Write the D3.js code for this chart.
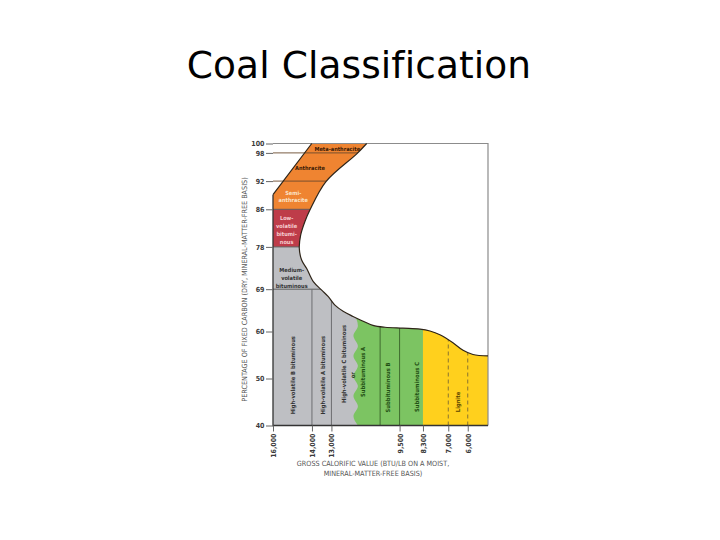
<!DOCTYPE html>
<html><head><meta charset="utf-8">
<script src="https://cdn.jsdelivr.net/npm/d3@7"></script>
<style>body{margin:0;background:#fff}</style>
</head><body>
<svg id="c" width="720" height="540"></svg>
<script>
// ---------------- data ----------------
const yTicks = [100, 98, 92, 86, 78, 69, 60, 50, 40];
const xTicks = [16000, 14000, 13000, 9500, 8300, 7000, 6000];
const rankFC = [98, 92, 86, 78, 69];              // fixed-carbon class limits
const columnBTU = [14000, 13000, 10500, 9500];     // calorific class limits
const ligniteDashBTU = [7000, 6000];
const subLigniteBTU = 8300;
// outer boundary of the coal field
const curveBTU = [11190, 11700, 13280, 14100, 14360, 14580, 14650, 14530, 14270, 13930, 13500, 13160, 12820, 12400, 11890, 11430, 10870, 10250, 9330, 8450, 7940, 7430, 6760, 6240, 5730, 4960];
const curveFC  = [100, 97.8, 91.9, 85.9, 83.4, 80.5, 77.7, 75.2, 73.4, 70.6, 68.8, 67.4, 65.6, 64.3, 63.2, 62.3, 61.3, 60.9, 60.7, 60.5, 60.1, 59.3, 57.6, 56.0, 55.1, 54.8];
// left edge of the anthracite band
const edgeBTU = [16000, 14010];
const edgeFC = [89.1, 100];
// wavy bituminous / subbituminous limit
const waveBTU = [11870, 11640, 11870, 11640, 11870, 11640, 11870, 11640, 11870, 11640, 11870, 11640];
const waveFC  = [64, 61.2, 59.1, 56.9, 54.8, 52.7, 50.5, 48.4, 46.3, 44.1, 42.0, 40];
const btuMin = 4960, btuMax = 16000, fcMin = 40, fcMax = 100;

const bandLabels = [
  {lines: ["Meta-anthracite"], btu: 12700, fc: 98.8, color: "#3b1a05"},
  {lines: ["Anthracite"], btu: 14100, fc: 94.7, color: "#3b1a05"},
  {lines: ["Semi-", "anthracite"], btu: 14960, fc: 88.7, color: "#fbe3c8"},
  {lines: ["Low-", "volatile", "bitumi-", "nous"], btu: 15300, fc: 81.6, color: "#f6cdd0"},
  {lines: ["Medium-", "volatile", "bituminous"], btu: 15040, fc: 71.4, color: "#333333"}
];
const columnLabels = [
  {text: "High-volatile B bituminous", btu: 14970, fc: 50.7, color: "#333333"},
  {text: "High-volatile A bituminous", btu: 13430, fc: 50.7, color: "#333333"},
  {text: "High-volatile C bituminous", btu: 12350, fc: 53.1, color: "#333333"},
  {text: "or", btu: 11880, fc: 50.7, color: "#2a3a20"},
  {text: "Subbituminous A", btu: 11360, fc: 51.4, color: "#1f4d12"},
  {text: "Subbituminous B", btu: 10100, fc: 48.1, color: "#1f4d12"},
  {text: "Subbituminous C", btu: 8620, fc: 48.2, color: "#1f4d12"},
  {text: "Lignite", btu: 6500, fc: 45.0, color: "#5a4300"}
];

// ---------------- drawing ----------------
const svg = d3.select("#c");
const x = d3.scaleLinear().domain([btuMax, btuMin]).range([273, 488]);
const y = d3.scaleLinear().domain([fcMin, fcMax]).range([425.5, 143.5]);
const FONT = "'Liberation Sans Narrow','DejaVu Sans Condensed','Liberation Sans',sans-serif";

svg.append("text").attr("x", 359).attr("y", 78).attr("text-anchor", "middle")
  .style("font-family", "'DejaVu Sans',Tahoma,Verdana,sans-serif").style("font-size", "37.5px")
  .style("font-variant-ligatures", "none").style("font-feature-settings", "'liga' 0, 'clig' 0")
  .style("letter-spacing", "0.1px")
  .attr("fill", "#000").text("Coal Classification");

const curvePts = curveBTU.map((b, i) => [x(b), y(curveFC[i])]);
const smooth = d3.line().curve(d3.curveCatmullRom.alpha(0.5));
const curvePath = smooth(curvePts).replace(/^M/, "L");
const P = (b, f) => x(b) + "," + y(f);

const coalPath = "M" + P(btuMax, fcMin) + "L" + P(edgeBTU[0], edgeFC[0]) + "L" + P(edgeBTU[1], edgeFC[1]) +
  curvePath + "L" + P(btuMin, fcMin) + "Z";
const leftPath = "M" + P(btuMax, fcMax) + curvePath + "L" + P(btuMin, fcMin) + "L" + P(btuMax, fcMin) + "Z";

const defs = svg.append("defs");
defs.append("clipPath").attr("id", "coal").append("path").attr("d", coalPath);
defs.append("clipPath").attr("id", "left").append("path").attr("d", leftPath);

const fills = svg.append("g").attr("clip-path", "url(#coal)");
const band = (b0, b1, f0, f1, c) => fills.append("rect")
  .attr("x", x(b0)).attr("y", y(f1)).attr("width", x(b1) - x(b0)).attr("height", y(f0) - y(f1)).attr("fill", c);
band(btuMax, btuMin, 86, fcMax, "#EF8431");
band(btuMax, btuMin, 78, 86, "#BE3C49");
band(btuMax, btuMin, fcMin, 78, "#BEBFC3");
// green subbituminous field
const wavePts = waveBTU.map((b, i) => [x(b), y(waveFC[i])]);
const waveLine = d3.line().curve(d3.curveMonotoneY);
const greenPath = waveLine(wavePts) + "L" + P(subLigniteBTU, fcMin) + "L" + P(subLigniteBTU, 70) + "L" + P(waveBTU[0], 70) + "Z";
fills.append("path").attr("d", greenPath).attr("fill", "#7CC462");
band(subLigniteBTU, btuMin, fcMin, 70, "#FFD01D");

// horizontal class limits
const hl = svg.append("g").attr("clip-path", "url(#left)");
rankFC.forEach(f => hl.append("line").attr("x1", x(btuMax)).attr("x2", x(btuMin))
  .attr("y1", y(f)).attr("y2", y(f)).attr("stroke", f >= 92 ? "#6b4a2e" : "#555").attr("stroke-width", 0.9));
// vertical class limits
const vl = svg.append("g").attr("clip-path", "url(#coal)");
columnBTU.forEach(b => vl.append("line").attr("x1", x(b)).attr("x2", x(b)).attr("y1", y(fcMin)).attr("y2", y(69))
  .attr("stroke", b > 12000 ? "#6e6e70" : "#3e6b2e").attr("stroke-width", 1));
ligniteDashBTU.forEach(b => vl.append("line").attr("x1", x(b)).attr("x2", x(b)).attr("y1", y(fcMin)).attr("y2", y(69))
  .attr("stroke", "#8a7430").attr("stroke-width", 1).attr("stroke-dasharray", "4,3"));

// frame (top and right)
svg.append("path").attr("d", "M" + P(btuMax, fcMax) + "L" + P(btuMin, fcMax) + "L" + P(btuMin, fcMin))
  .attr("fill", "none").attr("stroke", "#8c8c8c").attr("stroke-width", 1.2);
// outline of coal field
svg.append("path").attr("d", "M" + P(edgeBTU[0], edgeFC[0]) + "L" + P(edgeBTU[1], edgeFC[1]) + "M" + P(curveBTU[0], curveFC[0]) + curvePath)
  .attr("fill", "none").attr("stroke", "#2e2418").attr("stroke-width", 1.2);
// axis lines
svg.append("path").attr("d", "M" + P(btuMax, edgeFC[0]) + "L" + P(btuMax, fcMin) + "L" + P(btuMin, fcMin))
  .attr("fill", "none").attr("stroke", "#333").attr("stroke-width", 1.3);

// axes
const ya = svg.append("g").attr("transform", "translate(" + x(btuMax) + ",0)")
  .call(d3.axisLeft(y).tickValues(yTicks).tickSize(7).tickPadding(1.5).tickFormat(d3.format("d")));
ya.select(".domain").remove();
ya.selectAll("line").attr("stroke", "#666");
ya.selectAll("text").style("font-family", FONT).style("font-size", "7px").style("font-weight", "bold").attr("fill", "#3a3a3a");

const xa = svg.append("g").attr("transform", "translate(0," + y(fcMin) + ")")
  .call(d3.axisBottom(x).tickValues(xTicks).tickSize(6).tickFormat(d3.format(",")));
xa.select(".domain").remove();
xa.selectAll("line").attr("stroke", "#666");
xa.selectAll("text").attr("transform", "rotate(-90)").attr("x", -8).attr("y", 0).attr("dy", "0.35em")
  .style("text-anchor", "end").style("font-family", FONT).style("font-size", "7px").style("font-weight", "bold").attr("fill", "#3a3a3a");

// axis titles
svg.append("text").attr("transform", "translate(247," + ((y(fcMin) + y(fcMax)) / 2 + 5) + ") rotate(-90)")
  .attr("text-anchor", "middle").style("font-family", FONT).style("font-size", "7.2px").attr("fill", "#555")
  .text("PERCENTAGE OF FIXED CARBON (DRY, MINERAL-MATTER-FREE BASIS)");
["GROSS CALORIFIC VALUE (BTU/LB ON A MOIST,", "MINERAL-MATTER-FREE BASIS)"].forEach((t, i) =>
  svg.append("text").attr("x", 373).attr("y", 466 + i * 9.8).attr("text-anchor", "middle")
    .style("font-family", FONT).style("font-size", "7.2px").attr("fill", "#555").text(t));

// class labels
bandLabels.forEach(l => {
  const n = l.lines.length, lh = 7.8;
  l.lines.forEach((t, i) => svg.append("text").attr("x", x(l.btu)).attr("y", y(l.fc) + (i - (n - 1) / 2) * lh)
    .attr("dy", "0.35em").attr("text-anchor", "middle").style("font-family", FONT).style("font-size", "5.6px")
    .style("font-weight", "bold").attr("fill", l.color).text(t));
});
columnLabels.forEach(l => svg.append("text")
  .attr("transform", "translate(" + x(l.btu) + "," + y(l.fc) + ") rotate(-90)")
  .attr("dy", "0.35em").attr("text-anchor", "middle").style("font-family", FONT).style("font-size", "5.8px")
  .style("font-weight", "bold").attr("fill", l.color).text(l.text));
</script>
</body></html>
